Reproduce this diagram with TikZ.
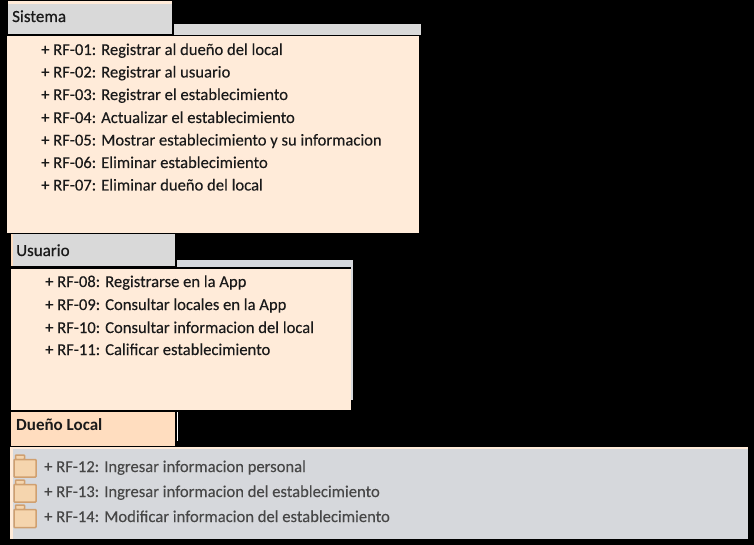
\documentclass[tikz,border=0pt]{standalone}
\usepackage{fontspec}
\setmainfont{Carlito}
\newfontfamily\semifont[RawFeature={embolden=0.6}]{Carlito}
\newfontfamily\rowfont[RawFeature={embolden=0.2}]{Carlito}
\definecolor{peach}{HTML}{FFEBD9}
\definecolor{peachd}{HTML}{FFDDBF}
\definecolor{tabgrey}{HTML}{D9D9D9}
\definecolor{bluegrey}{HTML}{D6D8DC}
\definecolor{folderfill}{HTML}{F5D5AE}
\definecolor{folderline}{HTML}{D0A070}
\definecolor{inktext}{HTML}{1A1A1A}
\tikzset{
  rowtext/.style={anchor=base west,inner sep=0pt,text=inktext,font=\rowfont\fontsize{16.6}{19}\selectfont},
  greytext/.style={rowtext,text=black!72},
  headtext/.style={anchor=base west,inner sep=0pt,text=inktext,font=\fontsize{17}{19}\selectfont},
  folderpart/.style={draw=folderline,line width=1.5pt,fill=folderfill,rounded corners=0.8pt},
}
\newcommand{\folderat}[2]{%
  \draw[folderpart] (15.5,#1-4.5) rectangle (24.5,#1);
  \draw[folderpart] (14,#1) rectangle (36,#2);
}
\begin{document}
\begin{tikzpicture}[x=1pt,y=-1pt]
\useasboundingbox (0,0) rectangle (754,545);
\fill[black] (0,0) rectangle (754,545);
% Sistema
\fill[peach] (8,1) rectangle (172,4);
\fill[tabgrey] (8,4) rectangle (172,34);
\fill[tabgrey] (174,24) rectangle (421,35);
\fill[peach] (7,36) rectangle (419,233);
\node[headtext] (sis) at (12,22) {\semifont Sistema};
\node[rowtext] (r1) at (41,55) {+ RF-01: Registrar al dueño del local};
\node[rowtext] (r2) at (41,77.5) {+ RF-02: Registrar al usuario};
\node[rowtext] (r3) at (41,100) {+ RF-03: Registrar el establecimiento};
\node[rowtext] (r4) at (41,123) {+ RF-04: Actualizar el establecimiento};
\node[rowtext] (r5) at (41,145.5) {+ RF-05: Mostrar establecimiento y su informacion};
\node[rowtext] (r6) at (41,168) {+ RF-06: Eliminar establecimiento};
\node[rowtext] (r7) at (41,190.5) {+ RF-07: Eliminar dueño del local};
% Usuario
\fill[peachd] (11,234) rectangle (175,266);
\fill[tabgrey] (13,234) rectangle (175,266);
\fill[bluegrey] (177,260) rectangle (353,400);
\fill[black] (175,267) rectangle (351,269);
\fill[peach] (11,269) rectangle (351,410);
\node[headtext] (usu) at (16,256) {\semifont Usuario};
\node[rowtext] (r8) at (45,287) {+ RF-08: Registrarse en la App};
\node[rowtext] (r9) at (45,310) {+ RF-09: Consultar locales en la App};
\node[rowtext] (r10) at (45,333) {+ RF-10: Consultar informacion del local};
\node[rowtext] (r11) at (45,355) {+ RF-11: Calificar establecimiento};
% Dueno Local
\fill[peachd] (11,412) rectangle (175,446);
\fill[white] (177,412) rectangle (178,441);
\node[headtext] (due) at (16,430) {\textbf{Dueño Local}};
\fill[bluegrey] (10,447) rectangle (748,539);
\fill[peach] (10,447) rectangle (748,449);
\fill[peach] (10,449) rectangle (13,539);
\folderat{459.5}{477}
\folderat{484.5}{502}
\folderat{509.5}{527.5}
\node[greytext] (r12) at (44,472) {+ RF-12: Ingresar informacion personal};
\node[greytext] (r13) at (44,497) {+ RF-13: Ingresar informacion del establecimiento};
\node[greytext] (r14) at (44,522) {+ RF-14: Modificar informacion del establecimiento};
\end{tikzpicture}
\end{document}
